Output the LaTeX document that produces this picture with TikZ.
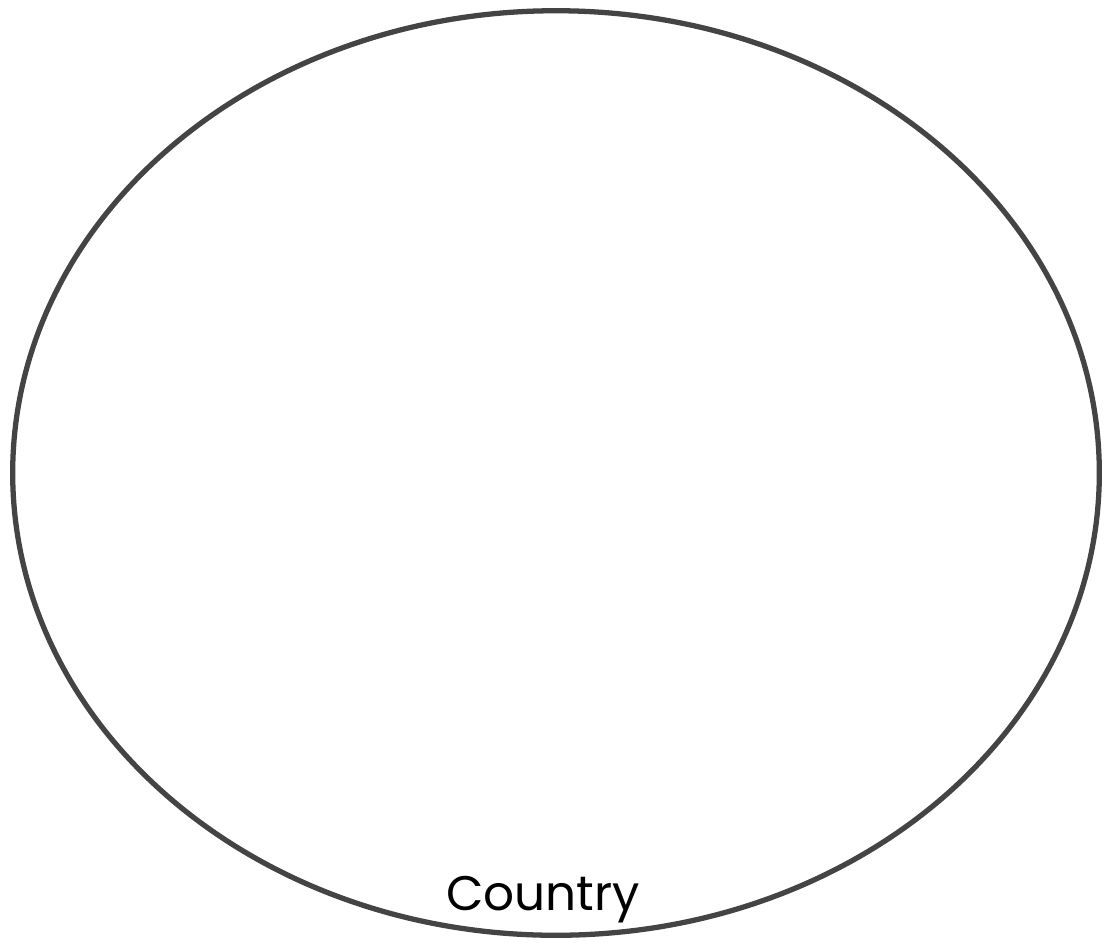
\documentclass[tikz,border=0pt]{standalone}
\usepackage{fontspec}
\setsansfont{Poppins}
\usetikzlibrary{
  positioning,
  shapes.geometric
}
\definecolor{rimgray}{HTML}{444444}

\begin{document}
\begin{tikzpicture}[
            x=0.01cm, y=-0.01cm,
            font=\sffamily,
            % Insieme principale
            setbox/.style={ellipse, draw=rimgray, line width=1.5pt, minimum width=10.86cm, minimum height=9.24cm, inner sep=0pt},
            setlabel/.style={font=\fontsize{13.8}{16}\sffamily, text=black, inner sep=0pt}
        ]
        \useasboundingbox (0,0) rectangle (1110,948);

        % Nodi
        \node (country) [setbox] at (556,473) {};
        \node (country_lbl) [setlabel, anchor=base] at (543,910) {Country};

    \end{tikzpicture}
\end{document}
